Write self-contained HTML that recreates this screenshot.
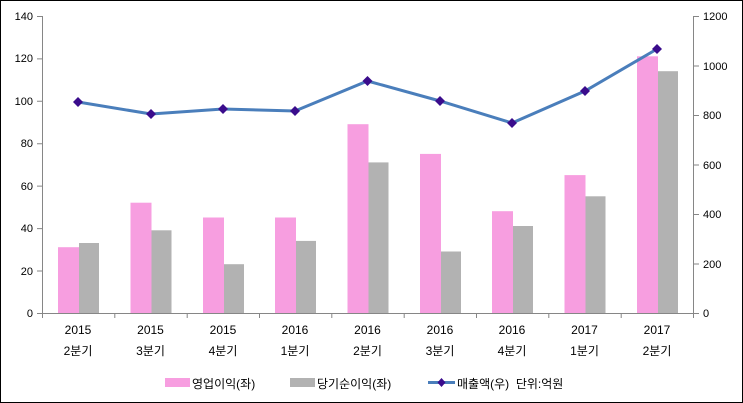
<!DOCTYPE html>
<html><head><meta charset="utf-8"><style>
body{margin:0;background:#fff}
svg{display:block}
text{font-family:"Liberation Sans","Noto Sans CJK KR",sans-serif;font-size:11px;fill:#000}
.b{font-size:12px}
</style></head><body>
<svg width="743" height="403" viewBox="0 0 743 403">
<rect x="0.5" y="0.5" width="742" height="402" fill="#fff" stroke="#000"/>
<g fill="#f79ee0">
<rect x="58" y="247.2" width="21" height="65.8"/>
<rect x="130.5" y="202.7" width="21" height="110.3"/>
<rect x="203" y="217.5" width="21" height="95.5"/>
<rect x="275" y="217.5" width="21" height="95.5"/>
<rect x="347.5" y="124.2" width="21" height="188.8"/>
<rect x="420" y="153.9" width="21" height="159.1"/>
<rect x="492" y="211.2" width="21" height="101.8"/>
<rect x="564.5" y="175.1" width="21" height="137.9"/>
<rect x="637" y="56.3" width="21" height="256.7"/>
</g>
<g fill="#b2b2b2">
<rect x="79" y="243" width="20" height="70"/>
<rect x="151.5" y="230.3" width="20" height="82.7"/>
<rect x="224" y="264.2" width="20" height="48.8"/>
<rect x="296" y="240.9" width="20" height="72.1"/>
<rect x="368.5" y="162.4" width="20" height="150.6"/>
<rect x="441" y="251.5" width="20" height="61.5"/>
<rect x="513" y="226" width="20" height="87"/>
<rect x="585.5" y="196.3" width="20" height="116.7"/>
<rect x="658" y="71.2" width="20" height="241.8"/>
</g>
<g stroke="#868686" stroke-width="1" fill="none">
<path d="M42.5 16V313.5H693.5V16"/>
<path d="M37 16.5H42M37 58.9H42M37 101.3H42M37 143.7H42M37 186.1H42M37 228.6H42M37 271H42M37 313.5H42"/>
<path d="M693 16.5H699M693 66H699M693 115.5H699M693 165H699M693 214.5H699M693 264H699M693 313.5H699"/>
<path d="M42.5 313V318M114.8 313V318M187.2 313V318M259.5 313V318M331.8 313V318M404.2 313V318M476.5 313V318M548.8 313V318M621.2 313V318M693.5 313V318"/>
</g>
<g text-anchor="end">
<text x="33" y="20">140</text><text x="33" y="62">120</text><text x="33" y="105">100</text>
<text x="33" y="147">80</text><text x="33" y="190">60</text><text x="33" y="232">40</text>
<text x="33" y="275">20</text><text x="33" y="317">0</text>
</g>
<g>
<text x="703" y="20">1200</text><text x="703" y="70">1000</text><text x="703" y="119">800</text>
<text x="703" y="169">600</text><text x="703" y="218">400</text><text x="703" y="268">200</text>
<text x="703" y="317">0</text>
</g>
<g text-anchor="middle" class="b">
<text class="b" x="78" y="334">2015</text><text class="b" x="150.5" y="334">2015</text><text class="b" x="223" y="334">2015</text>
<text class="b" x="295" y="334">2016</text><text class="b" x="367.5" y="334">2016</text><text class="b" x="440" y="334">2016</text>
<text class="b" x="512" y="334">2016</text><text class="b" x="584.5" y="334">2017</text><text class="b" x="657" y="334">2017</text>
<text class="b" x="78" y="355">2분기</text><text class="b" x="150.5" y="355">3분기</text><text class="b" x="223" y="355">4분기</text>
<text class="b" x="295" y="355">1분기</text><text class="b" x="367.5" y="355">2분기</text><text class="b" x="440" y="355">3분기</text>
<text class="b" x="512" y="355">4분기</text><text class="b" x="584.5" y="355">1분기</text><text class="b" x="657" y="355">2분기</text>
</g>
<polyline points="78,102 151,114 223,109 295,111 367.5,81 440,101 512,123 585,91 657,49" fill="none" stroke="#4a7ebb" stroke-width="3"/>
<g fill="#3a0c8c">
<path d="M78 97l5 5-5 5-5-5z"/><path d="M151 109l5 5-5 5-5-5z"/><path d="M223 104l5 5-5 5-5-5z"/>
<path d="M295 106l5 5-5 5-5-5z"/><path d="M367.5 76l5 5-5 5-5-5z"/><path d="M440 96l5 5-5 5-5-5z"/>
<path d="M512 118l5 5-5 5-5-5z"/><path d="M585 86l5 5-5 5-5-5z"/><path d="M657 44l5 5-5 5-5-5z"/>
</g>
<rect x="165" y="378" width="25" height="9" fill="#f79ee0"/>
<text class="b" x="192" y="388">영업이익(좌)</text>
<rect x="290" y="378" width="25" height="9" fill="#b2b2b2"/>
<text class="b" x="317" y="388">당기순이익(좌)</text>
<line x1="428" y1="382.5" x2="455" y2="382.5" stroke="#4a7ebb" stroke-width="3"/>
<path d="M441.5 378l4 4.5-4 4.5-4-4.5z" fill="#3a0c8c"/>
<text class="b" x="457" y="388" xml:space="preserve">매출액(우)  단위:억원</text>
</svg>
</body></html>
